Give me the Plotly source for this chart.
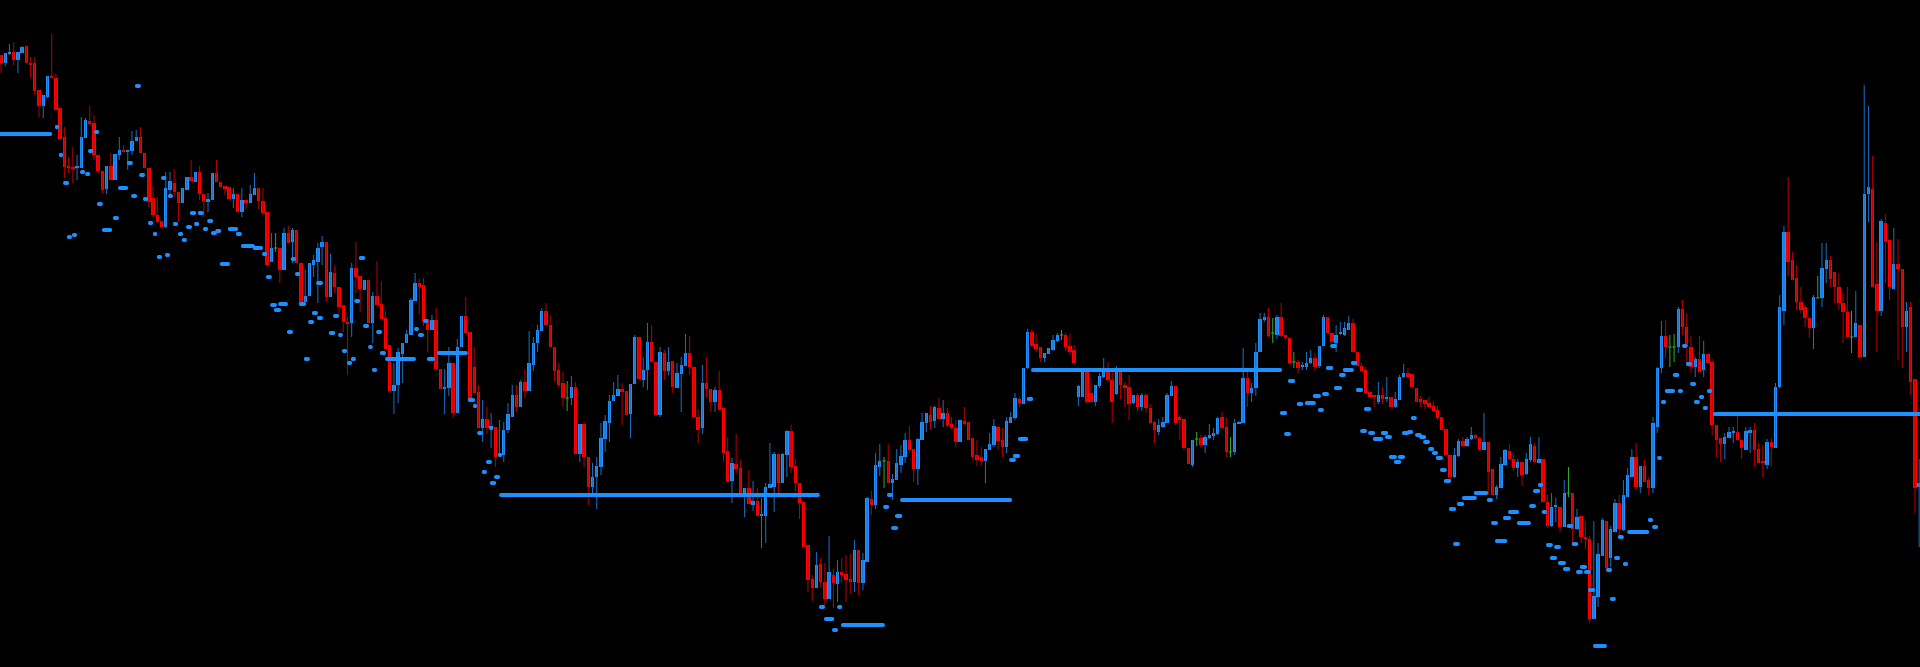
import plotly.graph_objects as go

# Chart values are read on a price scale that runs downward (axis reversed): smaller = higher.
opens = [
    55,63,54,52,60,53,46,63,63,90, 106,97,76,78,108,137,166,167,168,168,
    138,121,123,155,171,189,166,180,155,150, 152,151,141,137,153,168,198,215,221,227,
    190,183,192,203,190,177,182,172,194,202, 200,173,182,186,187,199,194,212,200,203,
    195,188,201,212,262,248,248,270,233,242, 230,263,302,296,265,262,247,242,297,273,
    287,305,322,323,268,276,290,280,323,296, 304,318,345,391,385,354,343,335,301,283,
    285,319,330,320,369,389,388,363,413,347, 316,332,367,392,428,419,428,427,456,455,
    430,417,395,407,382,391,365,343,331,311, 325,347,370,383,398,398,387,454,424,457,
    487,477,467,439,423,401,396,389,391,414, 384,337,380,370,342,362,415,353,371,361,
    388,374,366,353,367,417,428,383,389,402, 390,408,451,481,464,468,493,488,505,501,
    516,516,488,487,454,483,455,431,466,483, 502,545,579,588,564,582,599,575,584,572,
    574,579,582,550,583,562,499,505,467,461, 461,483,480,465,457,440,449,469,440,423,
    415,421,408,419,413,424,428,442,421,422, 438,455,457,461,450,445,427,440,447,423,
    418,399,404,368,332,344,347,358,354,350, 341,335,335,346,350,397,397,372,393,402,
    386,377,371,380,394,372,385,387,403,395, 407,395,408,422,432,427,423,396,386,417,
    419,448,465,439,438,445,438,436,434,417, 427,452,452,424,423,378,393,388,352,320,
    317,333,335,317,335,338,362,362,367,367, 363,358,366,346,317,333,343,334,335,330,
    323,352,366,370,392,395,402,395,399,397, 407,400,377,373,374,388,399,400,403,406,
    410,417,429,455,477,456,441,446,439,435, 438,450,442,469,495,488,465,451,459,468,
    462,474,460,446,463,459,502,526,507,507, 527,493,493,529,516,537,539,619,597,556,
    521,558,532,503,530,497,477,457,487,466, 480,488,427,368,336,347,347,347,309,327,
    347,367,359,370,354,362,425,438,444,438, 433,432,440,450,433,430,449,461,465,442,
    448,387,311,232,260,278,302,307,318,328, 298,298,269,260,272,287,303,312,337,337,
    325,357,194,189,284,311,223,240,289,264, 269,327,307,379,487,
]
highs = [
    55,53,44,42,52,46,46,57,57,90, 95,76,34,74,108,127,157,147,155,117,
    118,106,115,155,171,166,153,154,137,145, 150,131,130,127,153,168,186,197,221,172,
    172,169,192,188,177,160,172,166,194,193, 173,160,182,186,187,188,194,188,200,185,
    173,188,188,212,233,233,248,228,226,228, 230,263,270,263,255,243,236,242,254,265,
    287,305,317,263,242,276,280,280,292,261, 281,311,345,363,348,343,330,298,273,279,
    278,319,315,308,369,369,347,363,339,316, 297,332,347,385,400,407,413,427,420,422,
    403,385,385,380,369,331,337,325,308,303, 315,347,363,372,381,376,382,424,422,457,
    463,457,423,415,395,382,375,383,391,384, 335,337,357,323,325,362,347,350,347,361,
    363,357,334,336,367,409,365,357,389,387, 371,408,437,458,434,460,488,470,481,488,
    498,483,443,452,454,453,430,425,459,483, 502,545,575,552,558,563,536,569,560,558,
    555,554,540,550,553,497,491,453,444,457, 444,474,449,445,433,426,449,438,413,413,
    406,406,398,400,408,417,420,420,407,422, 438,440,447,449,433,419,426,428,417,412,
    393,397,368,329,329,334,347,353,348,335, 333,330,333,334,345,385,368,368,381,385,
    373,358,362,368,366,368,382,375,395,393, 393,393,404,421,419,417,393,381,386,415,
    419,448,440,432,435,435,424,428,417,412, 417,437,419,421,348,371,383,343,313,313,
    308,318,315,303,335,338,352,360,362,352, 350,353,346,315,317,333,325,322,322,316,
    319,352,363,367,392,395,382,387,377,397, 392,375,364,368,374,388,396,400,397,401,
    406,417,429,455,448,439,437,437,427,434, 437,413,442,469,485,457,449,444,454,459,
    462,453,437,443,437,459,495,493,498,507, 480,467,493,509,516,521,536,521,543,518,
    521,526,499,495,480,468,449,443,466,460, 477,417,367,321,320,335,334,307,300,313,
    336,357,336,341,354,359,425,438,433,427, 427,416,440,427,427,423,443,445,439,438,
    383,295,226,177,252,265,287,305,318,295, 276,243,243,256,272,273,293,287,311,291,
    325,85,106,156,242,219,214,240,228,239, 269,302,302,379,459,
]
lows = [
    73,66,55,65,73,53,63,77,95,117, 118,98,78,110,139,178,173,183,180,168,
    138,126,160,173,193,194,180,180,160,152, 170,155,141,153,168,207,218,223,228,228,
    195,197,222,203,190,181,182,200,217,212, 200,182,187,195,199,208,212,217,209,203,
    195,209,215,266,262,252,283,270,243,263, 263,302,302,296,277,303,265,302,297,293,
    317,332,375,337,293,312,290,323,343,305, 319,349,393,414,403,383,343,335,301,315,
    326,352,330,369,389,414,396,418,413,347, 333,399,393,428,442,433,448,467,456,462,
    433,417,412,407,398,391,371,352,331,325, 347,381,387,407,411,405,454,462,467,505,
    495,509,475,452,442,401,396,425,415,438, 384,379,387,390,362,415,417,380,375,393,
    388,412,366,375,417,443,434,398,412,412, 410,462,482,503,473,493,517,504,511,516,
    548,543,488,512,493,483,477,473,492,519, 547,592,601,588,587,608,599,608,602,582,
    602,594,592,595,590,562,515,509,476,488, 483,500,480,473,463,453,482,485,440,432,
    430,428,419,427,427,430,447,442,425,440, 459,466,466,483,450,447,450,457,453,423,
    420,407,404,369,348,352,362,362,354,351, 342,340,351,355,363,406,397,404,402,406,
    388,378,382,423,395,399,407,420,404,411, 411,413,424,443,435,428,423,396,425,440,
    450,464,467,446,448,453,439,440,435,430, 457,457,455,424,423,407,402,396,352,322,
    337,343,339,337,340,365,368,373,370,370, 364,371,368,346,333,345,352,335,336,330,
    352,366,371,393,397,407,404,404,402,407, 408,400,378,378,387,402,407,409,407,411,
    420,430,455,481,478,457,447,447,440,439, 451,450,495,495,499,488,466,460,471,477,
    486,475,462,463,463,502,528,527,522,532, 527,497,543,530,543,549,623,619,607,556,
    570,567,532,537,531,497,477,490,493,482, 495,493,433,373,358,367,362,353,335,363,
    373,377,372,377,363,435,457,462,459,438, 443,440,459,450,453,467,463,477,469,466,
    448,388,325,276,280,310,313,327,338,349, 298,307,283,287,303,310,343,337,353,337,
    358,357,222,287,352,316,283,300,289,360, 368,352,395,513,547,
]
closes = [
    63,53,52,60,52,47,63,65,91,106, 95,76,78,110,139,167,167,168,166,137,
    120,124,155,171,190,166,180,154,150,152, 150,141,137,153,168,202,215,222,227,188,
    181,192,203,188,177,181,172,194,201,199, 173,182,187,189,199,194,212,200,203,194,
    188,201,213,265,248,248,270,233,243,230, 263,302,296,263,260,248,242,297,272,287,
    307,322,323,268,277,289,280,323,296,305, 319,349,391,385,352,343,334,300,283,287,
    321,330,320,369,389,387,363,413,347,316, 333,399,393,428,419,428,427,457,455,430,
    414,395,407,382,391,363,343,330,311,325, 347,371,385,398,398,387,454,424,457,487,
    477,466,438,421,401,395,389,392,415,384, 337,379,370,342,362,415,352,371,362,387,
    373,365,353,367,417,430,383,389,402,390, 410,453,482,463,469,493,488,504,501,516,
    515,487,484,454,483,454,431,467,483,503, 547,580,588,565,582,599,572,583,572,575,
    580,582,550,583,560,498,505,465,461,461, 483,479,463,456,440,450,469,439,422,413,
    422,407,419,413,425,428,442,420,424,440, 457,460,461,449,444,426,441,447,421,417,
    398,403,368,332,346,349,358,353,348,340, 335,335,347,352,363,386,372,402,402,385,
    376,372,380,402,368,385,388,404,395,407, 395,408,423,430,425,422,395,386,423,420,
    448,464,440,439,445,437,435,433,418,428, 452,452,423,422,378,393,388,352,319,317,
    336,333,317,336,338,363,362,368,366,363, 358,367,346,317,333,342,335,333,328,323,
    352,366,371,393,397,397,395,399,397,407, 399,377,373,377,387,402,402,404,407,411,
    418,430,455,477,455,441,446,439,435,438, 450,442,472,495,487,464,450,459,468,462,
    475,459,444,462,459,502,526,507,506,527, 493,493,529,517,537,539,619,596,554,520,
    568,529,503,529,495,475,457,487,466,482, 488,423,368,336,347,347,347,309,327,347,
    367,359,372,354,363,425,440,444,437,432, 432,440,448,431,430,450,463,463,442,447,
    387,307,232,262,280,302,310,318,328,297, 298,268,260,279,287,303,312,337,337,323,
    357,194,187,287,311,221,242,287,264,269, 327,311,382,488,483,
]

# Level segments: from bar, to bar, level
dash_from = [
    -0.5,31.7,12.8,22.0,13.7,20.6,14.7,18.7,19.9,27.7, 29.8,30.8,32.7,33.6,22.7,26.5,23.9,15.6,16.8,37.9,
    39.5,34.8,36.0,36.9,38.8,40.7,41.9,42.8,43.8,44.7, 46.6,45.7,47.8,48.8,49.7,50.7,51.8,53.7,55.6,56.8,
    59.6,61.8,62.7,63.7,64.6,65.6,67.7,68.6,69.6,70.5, 71.7,72.7,73.6,74.8,74.6,78.6,77.6,79.8,80.7,81.9,
    82.8,83.6,84.7,85.7,86.9,87.8,88.8,89.7,90.9,97.8, 98.7,99.9,100.8,103.2,110.5,111.7,112.7,114.8,113.8,115.7,
    116.7,115.7,117.6,117.9,193.6,194.8,196.7,197.9,198.8,209.7, 208.8,211.6,210.7,212.8,240.7,239.5,238.6,242.8,243.8,304.6,
    302.7,303.7,306.7,308.6,310.5,311.7,312.7,313.6,314.6,315.5, 316.7,317.6,319.5,320.7,321.7,322.6,323.6,324.7,326.6,327.6,
    328.5,329.7,330.6,331.6,332.8,333.7,334.7,335.6,336.6,337.8, 338.7,339.6,340.6,341.5,342.7,343.7,344.6,345.8,348.6,351.7,
    352.7,353.6,355.5,356.7,358.8,361.7,362.6,363.8,364.7,365.7, 366.6,367.6,368.5,369.7,370.6,371.8,372.8,373.7,374.7,375.6,
    376.8,380.8,379.9,381.8,382.7,383.9,384.9,389.8,390.8,392.0, 392.9,393.8,396.9,395.7,397.9,398.8,399.8,400.7,401.9,402.8,
    403.8,405.2,
]
dash_to = [
    12.1,33.1,13.7,23.2,14.7,21.8,16.1,19.9,21.1,30.1, 31.2,32.2,34.1,34.8,24.1,27.9,26.3,16.8,18.0,39.1,
    40.7,36.0,36.9,38.1,40.0,41.9,43.1,44.0,45.2,46.2, 48.0,46.9,49.0,50.2,51.1,52.1,54.2,56.1,57.0,60.1,
    62.0,63.0,64.1,65.3,66.3,67.9,69.1,69.8,70.8,72.2, 73.1,74.1,75.0,76.2,76.2,80.0,79.1,80.9,81.9,83.1,
    84.0,85.0,86.2,87.1,88.0,89.0,90.2,91.1,98.2,98.9, 100.1,101.1,102.7,110.5,112.2,112.7,114.1,116.2,115.0,117.2,
    118.1,116.4,118.6,193.8,195.0,197.2,198.1,199.1,209.2,211.1, 210.2,213.3,212.3,239.3,243.1,241.2,240.2,244.3,303.2,306.3,
    304.4,305.3,308.2,311.2,312.4,313.1,314.3,315.3,316.2,317.4, 318.3,320.2,321.0,322.4,323.3,324.3,325.2,327.1,328.3,329.2,
    330.4,331.4,332.3,333.3,334.2,335.1,336.3,337.3,338.2,339.2, 340.1,341.3,342.2,343.2,344.4,345.3,346.3,349.3,352.0,353.1,
    354.3,356.5,357.4,359.3,362.1,363.3,364.3,365.0,365.9,367.3, 368.3,369.2,370.4,371.4,372.1,373.3,374.4,375.4,376.3,377.3,
    380.1,382.2,381.3,383.2,384.1,385.1,390.1,391.0,392.2,393.1, 394.1,396.2,398.1,397.2,399.1,400.2,401.2,402.1,403.1,404.0,
    405.0,454.5,
]
dash_level = [
    134,86,127,132,155,151,183,172,174,188, 163,196,175,199,204,218,230,237,235,178,
    196,223,234,257,255,224,234,240,227,213, 213,224,229,221,233,231,264,229,234,246,
    248,254,277,305,310,304,332,259,274,304, 359,322,313,318,283,316,333,335,351,363,
    359,301,258,326,347,370,332,353,359,329, 335,321,359,353,400,406,433,462,472,483,
    477,428,455,495,607,619,630,607,625,495, 507,516,528,500,439,456,460,399,370,381,
    413,434,404,403,396,410,394,368,346,388, 375,370,363,390,431,409,433,439,433,437,
    457,462,457,433,432,418,435,437,442,449, 453,458,470,481,509,544,504,498,493,500,
    523,541,518,512,523,506,491,485,512,545, 558,547,563,569,526,544,572,567,572,590,
    646,599,570,558,537,564,532,520,527,458, 402,391,391,375,346,364,384,402,397,408,
    391,414,
]

BLUE = "#1e90ff"
RED = "#ff0000"
GREEN = "#2fae2f"
WICK_BLUE = "#1a6fc4"
WICK_RED = "#b80000"

n = len(opens)
wick = {"b": ([], []), "r": ([], []), "g": ([], [])}
body_x, body_base, body_h, body_col = [], [], [], []
doji_x, doji_y = [], []
for i in range(n):
    o, c = opens[i], closes[i]
    hi = min(highs[i], o, c)
    lo = max(lows[i], o, c)
    if c == o:
        k = "g"
        doji_x += [i - 0.42, i + 0.42, None]
        doji_y += [o, o, None]
    else:
        k = "b" if c < o else "r"
        h = c - o
        if abs(h) < 1.5:
            h = 1.5 if h > 0 else -1.5
        body_x.append(i)
        body_base.append(o)
        body_h.append(h)
        body_col.append(BLUE if k == "b" else RED)
    wick[k][0].extend([i, i, None])
    wick[k][1].extend([hi, lo, None])

fig = go.Figure()
for k, col in (("b", WICK_BLUE), ("r", WICK_RED), ("g", GREEN)):
    fig.add_trace(go.Scatter(x=wick[k][0], y=wick[k][1], mode="lines",
                             line=dict(color=col, width=1), hoverinfo="skip"))
fig.add_trace(go.Bar(x=body_x, base=body_base, y=body_h, width=0.8,
                     marker=dict(color=body_col, line=dict(width=0)), hoverinfo="skip"))
fig.add_trace(go.Scatter(x=doji_x, y=doji_y, mode="lines",
                         line=dict(color=GREEN, width=1), hoverinfo="skip"))

cap = 0.45
dx, dy = [], []
for s, e, lv in zip(dash_from, dash_to, dash_level):
    a, b = s + cap, e - cap
    if b < a:
        a = b = (s + e) / 2
    dx += [a, b, None]
    dy += [lv, lv, None]
fig.add_trace(go.Scatter(x=dx, y=dy, mode="lines+markers",
                         line=dict(color=BLUE, width=4),
                         marker=dict(color=BLUE, size=4, line=dict(width=0)),
                         hoverinfo="skip"))

fig.update_layout(
    width=1920, height=667, autosize=False,
    margin=dict(l=0, r=0, t=0, b=0, pad=0),
    paper_bgcolor="#000000", plot_bgcolor="#000000",
    showlegend=False, bargap=0,
    xaxis=dict(range=[-0.237, 454.2], visible=False, fixedrange=True),
    yaxis=dict(range=[667, 0], visible=False, fixedrange=True),
)
fig.write_html("out.html", config={"displayModeBar": False},
               post_script="document.body.style.margin='0';document.body.style.background='#000';")
